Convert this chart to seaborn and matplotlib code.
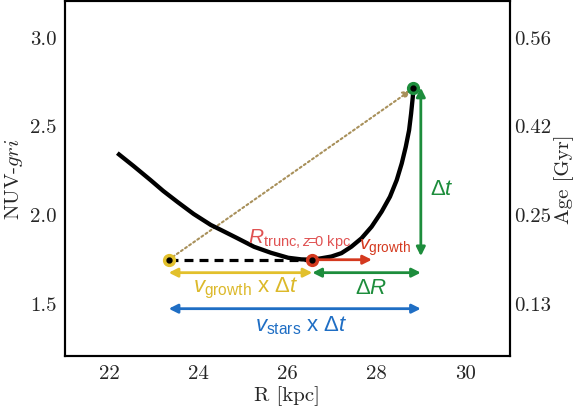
import matplotlib
matplotlib.use("Agg")
import matplotlib.pyplot as plt
import seaborn as sns
import pandas as pd

# ---- data ----
curve_R = [22.175, 22.54, 22.921, 23.21, 23.531, 23.89, 24.277, 24.503, 24.86, 25.249,
           25.63, 26.017, 26.31, 26.537, 26.76, 26.989, 27.215, 27.441, 27.667, 27.893,
           28.119, 28.306, 28.458, 28.571, 28.661, 28.736, 28.781, 28.819, 28.835]
curve_color = [2.343, 2.270, 2.191, 2.129, 2.067, 2.000, 1.938, 1.910, 1.865, 1.815,
               1.781, 1.753, 1.744, 1.742, 1.750, 1.760, 1.779, 1.816, 1.863, 1.928,
               2.013, 2.097, 2.191, 2.285, 2.378, 2.472, 2.565, 2.659, 2.715]

start_R = 23.33       # yellow point
trunc_R = 26.56       # red point
end_R = 28.83         # green point
base_y = 1.742
end_y = 2.712
vgrowth_tip = 27.90
dt_x = 29.00
row1_y = 1.669
row2_y = 1.466

left_ticks = [3.0, 2.5, 2.0, 1.5]
left_labels = ["3.0", "2.5", "2.0", "1.5"]
x_ticks = [22, 24, 26, 28, 30]
x_labels = ["22", "24", "26", "28", "30"]
age_labels = ["0.56", "0.42", "0.25", "0.13"]

# ---- style ----
sns.set_style("white")
plt.rcParams["font.family"] = ["cmr10", "DejaVu Serif"]
plt.rcParams["mathtext.fontset"] = "custom"
plt.rcParams["mathtext.rm"] = "Liberation Sans"
plt.rcParams["mathtext.it"] = "Liberation Sans:italic"
plt.rcParams["mathtext.bf"] = "Liberation Sans:bold"
plt.rcParams["axes.formatter.use_mathtext"] = True

YEL = "#e2c02c"
YEL_T = "#dcb92a"
GRN = "#1d8d3c"
BLU = "#1f6ec4"
RED = "#d4391f"
RED_T = "#e05252"
TAN = "#a8905a"
SANS = "Liberation Sans"

fig = plt.figure(figsize=(5.76, 4.14), dpi=100)
ax = fig.add_axes([0.113, 0.138, 0.772, 0.857])

df = pd.DataFrame({"R": curve_R, "c": curve_color})
sns.lineplot(data=df, x="R", y="c", ax=ax, color="black", lw=3.1, sort=False,
             solid_capstyle="butt", solid_joinstyle="round", zorder=3)

# dashed black base line
ax.plot([start_R, trunc_R], [base_y, base_y], color="black", lw=2.3,
        dashes=(2.8, 1.9), zorder=3)

# dotted tan arrow
ax.annotate("", xy=(end_R - 0.06, end_y - 0.015), xytext=(start_R, base_y),
            arrowprops=dict(arrowstyle="-|>", color=TAN, lw=1.5, ls=(0, (1, 1.4)),
                            mutation_scale=11, shrinkA=0, shrinkB=0), zorder=2)

# red v_growth arrow
ax.annotate("", xy=(vgrowth_tip, base_y), xytext=(trunc_R, base_y),
            arrowprops=dict(arrowstyle="-|>", color=RED, lw=2.0,
                            mutation_scale=13, shrinkA=0, shrinkB=0), zorder=4)

def darrow(x0, y0, x1, y1, color):
    ax.annotate("", xy=(x1, y1), xytext=(x0, y0),
                arrowprops=dict(arrowstyle="<|-|>", color=color, lw=2.0,
                                mutation_scale=13, shrinkA=0, shrinkB=0), zorder=4)

darrow(dt_x, end_y, dt_x, base_y + 0.02, GRN)
darrow(start_R, row1_y, trunc_R, row1_y, YEL)
darrow(trunc_R, row1_y, dt_x, row1_y, GRN)
darrow(start_R, row2_y, dt_x, row2_y, BLU)

# points
for xp, yp, col in [(start_R, base_y, YEL), (trunc_R, base_y, RED), (end_R, end_y, GRN)]:
    ax.plot([xp], [yp], marker="o", ms=8.5, mfc=col, mec=col, zorder=6)
    ax.plot([xp], [yp], marker="o", ms=3.5, mfc="black", mec="black", zorder=7)

# texts
ax.text(29.2, 2.146, r"$\Delta t$", color=GRN, fontsize=16, family=SANS,
        ha="left", va="center")
ax.text(26.28, 1.862, r"$R_{\mathrm{trunc,}z\!\!=\!\!\mathrm{0\ kpc}}$", color=RED_T,
        fontsize=15, family=SANS, ha="center", va="center")
ax.text(27.62, 1.815, r"$v_{\mathrm{growth}}$", color=RED, fontsize=14,
        family=SANS, ha="left", va="center")
ax.text(25.07, 1.584, r"$v_{\mathrm{growth}}$ x $\Delta t$", color=YEL_T,
        fontsize=16, family=SANS, ha="center", va="center")
ax.text(27.89, 1.584, r"$\Delta R$", color=GRN, fontsize=16, family=SANS,
        ha="center", va="center")
ax.text(26.31, 1.376, r"$v_{\mathrm{stars}}$ x $\Delta t$", color=BLU,
        fontsize=16, family=SANS, ha="center", va="center")

# axes
ax.set_xlim(21, 31)
ax.set_ylim(1.2, 3.2)
ax.set_xticks(x_ticks)
ax.set_xticklabels(x_labels)
ax.set_yticks(left_ticks)
ax.set_yticklabels(left_labels)
ax.tick_params(length=0, labelsize=15, pad=6)
ax.set_xlabel("R [kpc]", fontsize=15, labelpad=2)
ax.set_ylabel("NUV-$gri$", fontsize=15, labelpad=4, math_fontfamily="cm")

ax2 = ax.twinx()
ax2.set_ylim(1.2, 3.2)
ax2.set_yticks(left_ticks)
ax2.set_yticklabels(age_labels)
ax2.tick_params(length=0, labelsize=15, pad=3)
ax2.set_ylabel("Age [Gyr]", fontsize=15, labelpad=2)

for a in (ax, ax2):
    for s in a.spines.values():
        s.set_visible(True)
        s.set_color("black")
        s.set_linewidth(1.5)

fig.savefig("out.png", dpi=100)
